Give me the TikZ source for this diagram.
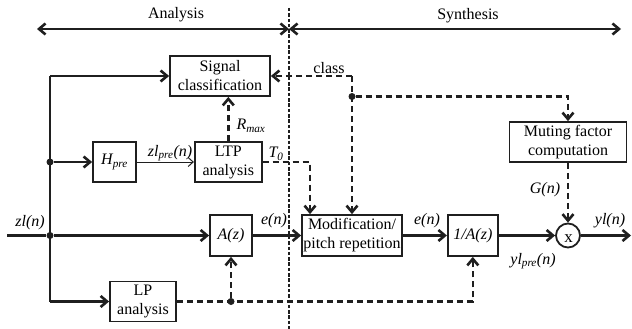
\documentclass[tikz,border=0pt]{standalone}
\usepackage{fontspec}
\setmainfont{Liberation Serif}
\usetikzlibrary{arrows.meta,shapes,backgrounds,positioning}

\begin{document}
\begin{tikzpicture}[x=1pt,y=-1pt,>={Straight Barb[length=6.5pt,width=11pt]},font=\fontsize{16}{19}\selectfont]
  \tikzstyle{block}=[rectangle,draw=black!88,line width=1.8pt,align=center,inner sep=0pt]
  \tikzstyle{sig}=[line width=2.6pt,draw=black!88]
  \tikzstyle{ctrl}=[sig,dash pattern=on 6pt off 4pt]
  \tikzstyle{junction}=[circle,fill=black!88,inner sep=0pt,minimum size=7pt]
  \tikzstyle{lbl}=[inner sep=0pt,font=\fontsize{16}{19}\selectfont\itshape]
  \useasboundingbox (0,0) rectangle (632,329);

  \begin{scope}
    % blocks
    \node [block,minimum width=100pt,minimum height=40pt] (sigcls) at (220,76) {Signal\\classification};
    \node [block,minimum width=43pt,minimum height=40pt] (hpre) at (114.5,162) {\textit{H\textsubscript{pre}}};
    \node [block,minimum width=67pt,minimum height=40pt] (ltp) [right=57pt of hpre] {LTP\\analysis};
    \node [block,minimum width=42pt,minimum height=41pt] (az) at (231,235.5) {\textit{A(z)}};
    \node [block,minimum width=66pt,minimum height=40pt] (lp) at (143,301.5) {LP\\analysis};
    \node [block,minimum width=100pt,minimum height=41pt] (mod) at (352,235.5) {Modification/\\pitch repetition};
    \node [block,minimum width=50pt,minimum height=41pt] (inva) [right=44pt of mod] {\textit{1/A(z)}};
    \node [block,circle,minimum size=24pt] (mult) at (568,235.5) {};
    \node [inner sep=0pt,font=\fontsize{17}{19}\selectfont] (multx) at (568.5,239) {x};
    \node [block,minimum width=117pt,minimum height=40pt] (mute) at (568,142) {Muting factor\\computation};
    % free ends and bends
    \coordinate (in) at (7,235.5);
    \coordinate (out) at (631,235.5);
    \coordinate (jtop) at (50,76);
    \coordinate (jlow) at (50,301.5);
    \coordinate (t0c) at (310,162);
    \coordinate (ccls) at (352,76);
    \coordinate (divtop) at (289,8);
    \coordinate (divbot) at (289,329);
    \coordinate (aleft) at (37,29);
    \coordinate (amid) at (289,29);
    \coordinate (aright) at (621,29);
    \node [junction] (jmid) at (50,235.5) {};
    \node [junction] (jpre) at (50,162) {};
    \node [junction] (jlp) at (az.south |- lp.east) {};
    \node [junction] (jcls) at (352,96.5) {};
  \end{scope}

  \begin{scope}
    \draw [line width=2pt,draw=black!88,dash pattern=on 3.5pt off 1.8pt] (divtop) -- (divbot);
    \draw [sig,<->] (aleft) -- (amid);
    \draw [sig,<->] (amid) -- (aright);
    \draw [sig] (in) -- (jmid);
    \draw [sig] (jtop) -- (jlow);
    \draw [sig,->] (jtop) -- (sigcls);
    \draw [sig,->] (jpre) -- (hpre);
    \draw [sig,->] (jmid) -- (az);
    \draw [sig,->] (jlow) -- (lp);
    \draw [line width=1pt,draw=black!88,-{Straight Barb[length=5pt,width=9pt]}] (hpre) -- (ltp);
    \draw [sig,->] (az) -- (mod);
    \draw [sig,->] (mod) -- (inva);
    \draw [sig,->] (inva) -- (mult);
    \draw [sig,->] (mult) -- (out);
    \draw [ctrl,->] (ltp) -- (ltp.north |- sigcls.south);
    \draw [ctrl,->] (ltp.east) -- (t0c) -- (t0c |- mod.north);
    \draw [ctrl,->] (ccls) -- (sigcls.east);
    \draw [ctrl,->] (ccls) -- (mod.north);
    \draw [ctrl,->] (jcls) -| (mute.north);
    \draw [ctrl,->] (mute) -- (mult);
    \draw [ctrl,->] (lp.east) -| (inva.south);
    \draw [ctrl,->] (jlp) -- (az.south);
  \end{scope}

  % labels
  \node (analysis) at (176,15) {Analysis};
  \node (synthesis) at (468,16) {Synthesis};
  \node [lbl] (zlin) at (30,223) {zl(n)};
  \node [lbl] (zlpre) at (170,153) {zl\textsubscript{pre}(n)};
  \node [lbl] (rmax) at (251,126) {R\textsubscript{max}};
  \node [lbl] (tzero) at (276,154) {T\textsubscript{0}};
  \node [lbl] (ea) at (274,221) {e(n)};
  \node (clslbl) at (329,68) {class};
  \node [lbl] (eb) at (427,221) {e(n)};
  \node [lbl] (ylpre) at (533,261) {yl\textsubscript{pre}(n)};
  \node [lbl] (ylout) at (610,221) {yl(n)};
  \node [lbl] (gn) at (545,190) {G(n)};
\end{tikzpicture}
\end{document}
